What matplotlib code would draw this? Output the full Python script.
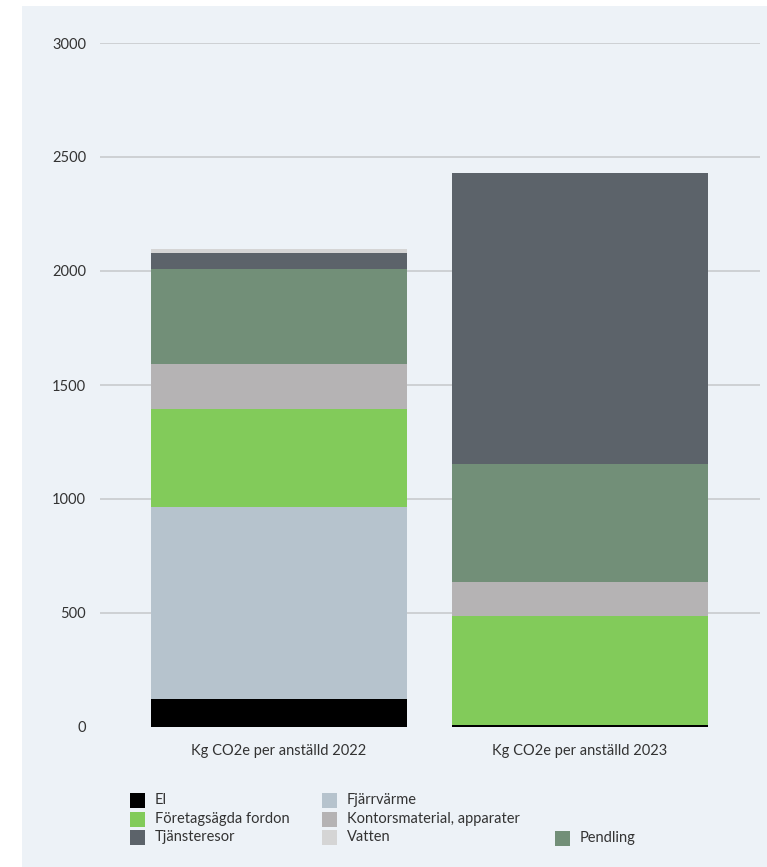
import numpy as np
import matplotlib.pyplot as plt
from matplotlib.patches import Rectangle

plt.rcParams['font.family'] = ['Lato', 'DejaVu Sans']

# kg CO2e per employee, by source
years = ['Kg CO2e per anställd 2022', 'Kg CO2e per anställd 2023']
categories = ['El', 'Fjärrvärme', 'Företagsägda fordon', 'Kontorsmaterial, apparater',
              'Pendling', 'Tjänsteresor', 'Vatten']
el = [123, 10]
fjarrvarme = [842, 0]
fordon = [430, 477]
kontor = [197, 149]
pendling = [417, 517]
tjansteresor = [70, 1276]
vatten = [17, 0]
yticks = [0, 500, 1000, 1500, 2000, 2500, 3000]

colors = ['#000000', '#b6c3cd', '#82cb5a', '#b5b3b4', '#728f78', '#5c636a', '#d5d5d5']
series = [el, fjarrvarme, fordon, kontor, pendling, tjansteresor, vatten]

W, H = 767, 867
fig = plt.figure(figsize=(W / 100, H / 100), dpi=100)
fig.patch.set_facecolor('white')
fig.patches.append(Rectangle((22 / W, 0), 1 - 22 / W, 1 - 6 / H, transform=fig.transFigure,
                             facecolor='#edf2f7', edgecolor='none', zorder=-10))

ax = fig.add_axes([100 / W, 1 - 727 / H, 660 / W, 684 / H])
ax.set_facecolor('none')
ax.set_zorder(2)

x = np.arange(len(years))
bottom = np.zeros(len(years))
for vals, c in zip(series, colors):
    ax.bar(x, vals, 0.85, bottom=bottom, color=c, zorder=3)
    bottom += np.array(vals)

ax.set_ylim(0, 3000)
ax.set_xlim(-0.595, 1.598)
ax.set_yticks(yticks)
ax.set_yticklabels([str(t) for t in yticks], fontsize=10.5, color='#333333')
ax.set_xticks(x)
ax.set_xticklabels(years, fontsize=10.5, color='#333333')
ax.tick_params(axis='y', length=0, pad=10)
ax.tick_params(axis='x', length=0, pad=12)
for t in yticks[1:]:
    ax.axhline(t, color='#c8cbcd', lw=1.2, zorder=1)
for s in ax.spines.values():
    s.set_visible(False)

# legend drawn by hand to keep the three-column layout
legend_pos = [(130, 800), (322, 800), (130, 819), (322, 819), (555, 838), (130, 837), (322, 837)]
sq = 15
for (px, py), name, c in zip(legend_pos, categories, colors):
    fig.patches.append(Rectangle((px / W, 1 - (py + sq / 2) / H), sq / W, sq / H,
                                 transform=fig.transFigure, facecolor=c, edgecolor='none'))
    fig.text((px + 25) / W, 1 - py / H, name, fontsize=10.5, color='#333333', va='center')

fig.savefig('out.png', dpi=100)
